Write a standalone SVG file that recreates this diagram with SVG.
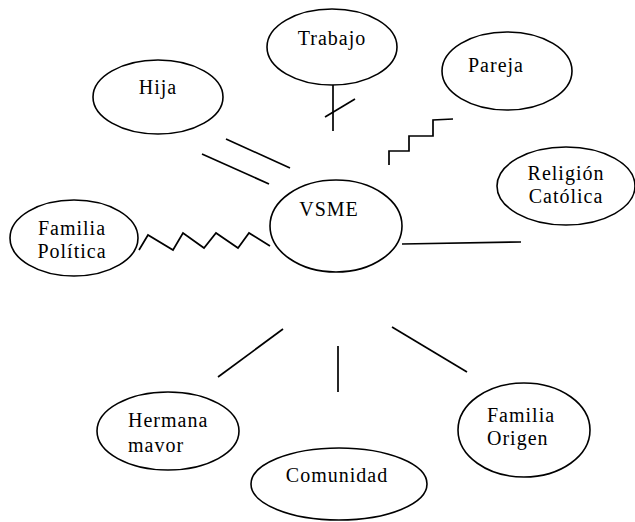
<svg xmlns="http://www.w3.org/2000/svg" width="635" height="522" viewBox="0 0 635 522">
<style>
.n ellipse{fill:none;stroke:#000;stroke-width:1.6}
.n text{font-family:"Liberation Serif","Times New Roman",serif;font-size:20px;letter-spacing:1px;fill:#000}
.c line,.c polyline{fill:none;stroke:#000;stroke-width:1.7}
</style>
<rect width="635" height="522" fill="#fff"/>
<g id="hija" class="n"><ellipse cx="158" cy="97" rx="65" ry="37"/><text x="158" y="94" text-anchor="middle">Hija</text></g>
<g id="trabajo" class="n"><ellipse cx="332" cy="47" rx="65" ry="38"/><text x="332" y="45" text-anchor="middle">Trabajo</text></g>
<g id="pareja" class="n"><ellipse cx="507" cy="71" rx="65" ry="39"/><text x="496" y="72" text-anchor="middle">Pareja</text></g>
<g id="religion" class="n"><ellipse cx="566" cy="186" rx="69" ry="39"/><text x="566" y="180" text-anchor="middle">Religión</text><text x="566" y="203" text-anchor="middle">Católica</text></g>
<g id="vsme" class="n"><ellipse cx="336" cy="226" rx="66" ry="46"/><text x="329" y="216" text-anchor="middle">VSME</text></g>
<g id="familia-politica" class="n"><ellipse cx="74" cy="238" rx="64" ry="38"/><text x="72" y="235" text-anchor="middle">Familia</text><text x="72" y="258" text-anchor="middle">Política</text></g>
<g id="hermana" class="n"><ellipse cx="168" cy="431" rx="71" ry="39"/><text x="128" y="427">Hermana</text><text x="128" y="452">mavor</text></g>
<g id="comunidad" class="n"><ellipse cx="339" cy="484" rx="88" ry="36"/><text x="337" y="482" text-anchor="middle">Comunidad</text></g>
<g id="familia-origen" class="n"><ellipse cx="524" cy="430" rx="66" ry="47"/><text x="487" y="422">Familia</text><text x="487" y="445">Origen</text></g>
<g id="connectors" class="c">
<line x1="226" y1="139" x2="290" y2="168"/>
<line x1="202" y1="154" x2="269" y2="184"/>
<line x1="333" y1="85" x2="333" y2="131"/>
<line x1="325" y1="117" x2="355" y2="99"/>
<polyline points="389,165 389,151 409,151 409,136 433,136 433,120 453,119"/>
<line x1="402" y1="244" x2="521" y2="242"/>
<polyline points="139,250 148,235 173,250 183,233 204,248 216,233 238,248 249,233 270,246"/>
<line x1="283" y1="329" x2="218" y2="377"/>
<line x1="338" y1="346" x2="338" y2="392"/>
<line x1="392" y1="327" x2="467" y2="372"/>
</g>
</svg>
